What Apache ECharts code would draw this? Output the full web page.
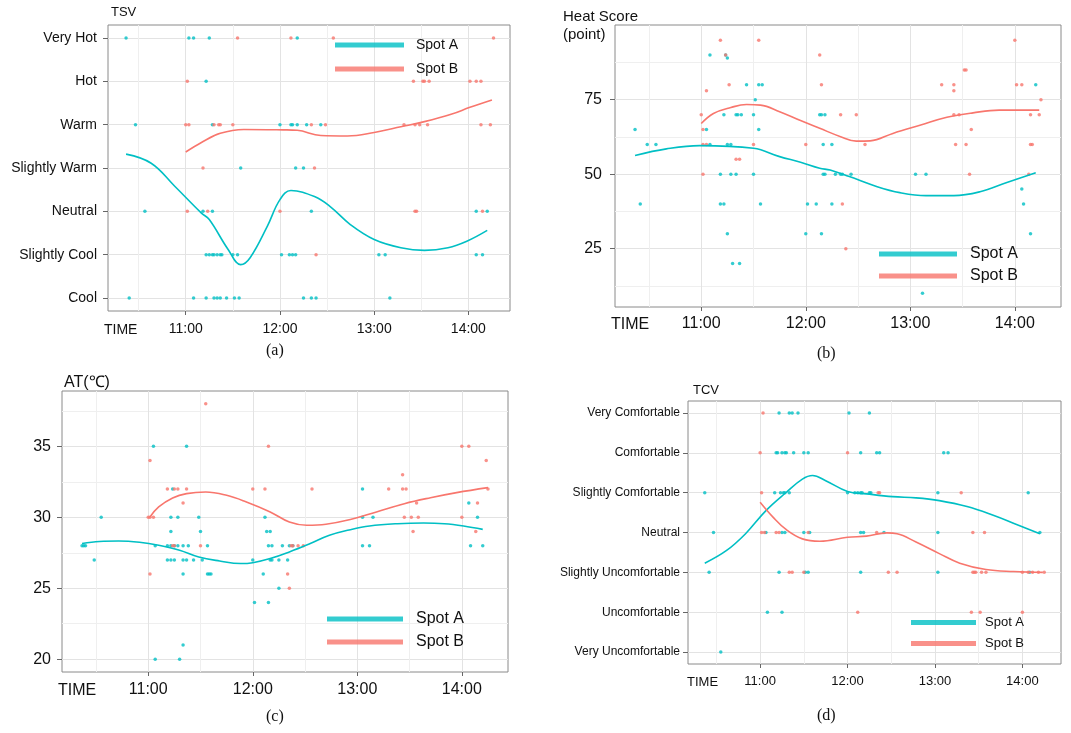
<!DOCTYPE html>
<html><head><meta charset="utf-8">
<script src="https://cdn.jsdelivr.net/npm/echarts@6/dist/echarts.min.js"></script>
<style>html,body{margin:0;padding:0;background:#fff}#c{width:1071px;height:733px}</style>
</head><body><div id="c"></div>
<script>
// ---- axis ticks (time in minutes since midnight) ----
const HOURS = [660, 720, 780, 840];
const HALF_HOURS = [630, 690, 750, 810];
const TSV_LEVELS = ['Cool','Slightly Cool','Neutral','Slightly Warm','Warm','Hot','Very Hot'];
const TCV_LEVELS = ['Very Uncomfortable','Uncomfortable','Slightly Uncomfortable','Neutral','Slightly Comfortable','Comfortable','Very Comfortable'];
const LEVEL_TICKS = [1,2,3,4,5,6,7];
const HEAT_TICKS = [25, 50, 75];
const HEAT_MINOR = [12.5, 37.5, 62.5, 87.5];
const AT_TICKS = [20, 25, 30, 35];
const AT_MINOR = [22.5, 27.5, 32.5, 37.5];

// ---- (a) TSV ----
const tsvA = [[622,7],[662,7],[665,7],[675,7],[731,7],[673,6],[628,5],[677,5],[720,5],[727,5],[728,5],[731,5],[737,5],[746,5],
  [695,4],[730,4],[735,4],[634,3],[671,3],[677,3],[740,3],[845,3],[852,3],
  [673,2],[675,2],[677,2],[678,2],[680,2],[682,2],[683,2],[690,2],[693,2],[721,2],[726,2],[728,2],[730,2],[783,2],[787,2],[845,2],[849,2],
  [624,1],[665,1],[673,1],[678,1],[680,1],[682,1],[686,1],[691,1],[694,1],[735,1],[740,1],[743,1],[790,1]];
const tsvB = [[693,7],[727,7],[754,7],[856,7],[661,6],[805,6],[811,6],[812,6],[815,6],[841,6],[845,6],[848,6],
  [660,5],[662,5],[678,5],[681,5],[682,5],[690,5],[740,5],[749,5],[799,5],[806,5],[809,5],[814,5],[848,5],[854,5],
  [671,4],[742,4],[661,3],[674,3],[720,3],[806,3],[807,3],[849,3],[743,2]];
const tsvAFit = [[622,4.32],[638,4.11],[653,3.58],[670,2.96],[675,2.81],[687,2.12],[695,1.77],[701,1.93],[712,2.66],[720,3.27],[727,3.48],
  [742,3.34],[752,3.11],[765,2.69],[780,2.35],[797,2.16],[812,2.10],[827,2.16],[839,2.31],[852,2.56]];
const tsvBFit = [[660,4.37],[670,4.59],[682,4.80],[697,4.89],[722,4.88],[731,4.87],[746,4.75],[763,4.74],[780,4.82],[797,4.95],
  [812,5.07],[829,5.24],[841,5.40],[855,5.57]];

// ---- (b) Heat score ----
const heatA = [[622,65],[625,40],[629,60],[634,60],[665,90],[674,90],[675,89],[686,80],[693,80],[695,80],[691,75],[673,70],[680,70],[681,70],
  [683,70],[690,70],[663,65],[693,65],[665,60],[675,60],[677,60],[671,50],[677,50],[680,50],[690,50],[671,40],[673,40],[694,40],[675,30],
  [678,20],[682,20],[721,40],[720,30],[728,70],[729,70],[731,70],[730,60],[735,60],[730,50],[731,50],[737,50],[740,50],[741,50],[746,50],
  [726,40],[735,40],[729,30],[787,10],[852,80],[783,50],[789,50],[844,45],[845,40],[849,30]];
const heatB = [[671,95],[674,90],[676,80],[693,95],[663,78],[660,70],[661,65],[661,60],[663,60],[690,60],[680,55],[682,55],[661,50],[720,60],
  [728,90],[729,80],[740,70],[749,70],[741,40],[743,25],[754,60],[798,80],[805,80],[805,78],[811,85],[812,85],[840,95],[841,80],[844,80],
  [855,75],[805,70],[808,70],[849,70],[854,70],[815,65],[806,60],[812,60],[849,60],[850,60],[814,50],[848,50]];
const heatAFit = [[622,56.3],[640,58.5],[659,59.6],[690,58.7],[705,55.9],[717,54],[728,52],[734,51.4],[745,49.2],[761,45.8],[774,43.8],
  [789,42.8],[805,42.8],[820,44.1],[835,47.1],[852,50.5]];
const heatBFit = [[660,67],[667,70.4],[677,72.4],[686,73.4],[694,73.2],[705,71],[717,68],[728,65.4],[740,62.6],[749,61.1],[757,61.2],
  [770,63.7],[786,66.5],[801,69.1],[816,70.6],[831,71.5],[854,71.5]];

// ---- (c) AT ----
const atA = [[622,28],[623,28],[624,28],[629,27],[633,30],[663,35],[664,28],[664,20],[674,32],[673,30],[677,30],[673,29],[671,28],[673,28],
  [675,28],[677,28],[680,28],[683,28],[671,27],[673,27],[675,27],[680,27],[682,27],[686,27],[691,27],[680,26],[680,21],[678,20],[682,35],
  [689,30],[690,29],[694,28],[694,26],[695,26],[696,26],[720,27],[721,24],[727,30],[728,29],[730,29],[729,28],[731,28],[730,27],[731,27],
  [735,27],[740,27],[737,28],[741,28],[743,28],[726,26],[735,25],[729,24],[783,32],[783,30],[789,30],[783,28],[787,28],[844,31],[849,30],
  [845,28],[852,28]];
const atB = [[661,34],[660,30],[661,30],[663,30],[661,26],[671,32],[675,32],[677,32],[680,31],[682,32],[674,28],[675,28],[690,28],[693,38],
  [720,32],[729,35],[727,32],[742,28],[743,28],[746,28],[749,28],[740,26],[741,25],[754,32],[798,32],[806,32],[808,32],[806,33],[807,30],
  [811,30],[815,30],[814,31],[812,29],[840,35],[844,35],[854,34],[855,32],[849,31],[840,30],[848,29]];
const atAFit = [[622,28.15],[632,28.3],[643,28.33],[655,28.24],[666,28.03],[678,27.68],[689,27.2],[701,26.92],[713,26.74],[720,26.8],
  [730,27.09],[741,27.56],[753,28.15],[764,28.73],[776,29.13],[787,29.39],[803,29.55],[818,29.6],[830,29.55],[841,29.39],[852,29.15]];
const atBFit = [[661,30.02],[666,30.73],[674,31.36],[682,31.67],[693,31.78],[705,31.55],[716,31.1],[730,30.38],[741,29.67],[751,29.44],
  [762,29.51],[776,29.84],[791,30.38],[807,30.96],[822,31.38],[837,31.74],[855,32.09]];

// ---- (d) TCV ----
const tcvA = [[673,7],[680,7],[682,7],[686,7],[721,7],[735,7],
  [671,6],[672,6],[675,6],[677,6],[678,6],[683,6],[690,6],[693,6],[729,6],[740,6],[742,6],[786,6],[789,6],
  [622,5],[670,5],[674,5],[676,5],[677,5],[680,5],[720,5],[725,5],[727,5],[729,5],[730,5],[735,5],[736,5],[782,5],[844,5],
  [628,4],[664,4],[675,4],[677,4],[690,4],[694,4],[729,4],[731,4],[745,4],[782,4],[852,4],
  [625,3],[673,3],[691,3],[693,3],[729,3],[782,3],[845,3],[665,2],[675,2],[633,1]];
const tcvB = [[662,7],[660,6],[720,6],[661,5],[741,5],[742,5],[798,5],
  [661,4],[663,4],[671,4],[673,4],[693,4],[740,4],[806,4],[814,4],
  [680,3],[682,3],[690,3],[748,3],[754,3],[806,3],[807,3],[808,3],[812,3],[815,3],[840,3],[844,3],[847,3],[851,3],[855,3],
  [727,2],[805,2],[811,2],[840,2]];
const tcvAFit = [[622,3.23],[637,3.55],[650,3.97],[664,4.55],[678,5.01],[689,5.34],[696,5.43],[705,5.3],[720,5.03],[733,4.97],[751,4.9],
  [767,4.87],[783,4.8],[802,4.65],[820,4.43],[836,4.2],[852,3.97]];
const tcvBFit = [[660,4.76],[669,4.38],[678,4.07],[689,3.84],[701,3.78],[720,3.88],[733,3.91],[747,3.99],[754,3.97],[767,3.76],[783,3.47],
  [797,3.23],[815,3.07],[834,3.02],[854,3.0]];

const COL_A = '#00BFC4', COL_B = '#F8766D';
const FONT = 'Liberation Sans, Arial, sans-serif';
const XMIN = 610.5, XMAX = 866.5;
const fmtTime = v => Math.floor(v / 60) + ':' + String(Math.round(v % 60)).padStart(2, '0');

const panels = [
  { grid: {left:108, top:25, width:402, height:286}, xfs:14, yfs:14, xMargin:11, yMargin:11, ymin:0.7, ymax:7.3,
    yMajor: LEVEL_TICKS, yMinor: null, yFmt: v => TSV_LEVELS[Math.round(v)-1], timeGap:4,
    A: tsvA, B: tsvB, AF: tsvAFit, BF: tsvBFit,
    legend: {left:335, top:38, itemWidth:69, fs:14, gap:10, pad:7} },
  { grid: {left:615, top:25, width:446, height:282}, xfs:16, yfs:16, xMargin:9, yMargin:13, ymin:5.4, ymax:100.1,
    yMajor: HEAT_TICKS, yMinor: HEAT_MINOR, yFmt: v => String(v), timeGap:4,
    A: heatA, B: heatB, AF: heatAFit, BF: heatBFit,
    legend: {left:879, top:246, itemWidth:78, fs:16, gap:6, pad:8} },
  { grid: {left:62, top:391, width:446, height:281}, xfs:16, yfs:16, xMargin:10, yMargin:11, ymin:19.1, ymax:38.9,
    yMajor: AT_TICKS, yMinor: AT_MINOR, yFmt: v => String(v), timeGap:4,
    A: atA, B: atB, AF: atAFit, BF: atBFit,
    legend: {left:327, top:611, itemWidth:76, fs:16, gap:7, pad:8} },
  { grid: {left:688, top:401, width:373, height:263}, xfs:13, yfs:12, xMargin:11, yMargin:8, ymin:0.7, ymax:7.3,
    yMajor: LEVEL_TICKS, yMinor: null, yFmt: v => TCV_LEVELS[Math.round(v)-1], timeGap:1,
    A: tcvA, B: tcvB, AF: tcvAFit, BF: tcvBFit,
    legend: {left:911, top:616, itemWidth:65, fs:13, gap:8, pad:4} }
];

const grids = [], xAxes = [], yAxes = [], series = [], legends = [];
const MAJOR = '#e3e3e3', MINOR = '#efefef';
panels.forEach((p, i) => {
  grids.push(Object.assign({show:true, borderColor:'#8a8a8a', borderWidth:1, backgroundColor:'#fff'}, p.grid));
  xAxes.push({
    type:'value', gridIndex:i, min:XMIN, max:XMAX, position:'bottom',
    name:'TIME', nameLocation:'start', nameGap:p.timeGap,
    nameTextStyle:{fontFamily:FONT, fontSize:p.xfs, color:'#111', align:'left', verticalAlign:'top', padding:[p.xMargin + 1,0,0,0]},
    axisLine:{show:false},
    axisTick:{show:true, length:4, lineStyle:{color:'#666'}, customValues:HOURS},
    axisLabel:{customValues:HOURS, formatter:fmtTime, fontFamily:FONT, fontSize:p.xfs, color:'#111', margin:p.xMargin},
    splitLine:{show:true, lineStyle:{color:MAJOR, width:1}}
  });
  xAxes.push({
    type:'value', gridIndex:i, min:XMIN, max:XMAX, position:'top',
    axisLine:{show:false}, axisLabel:{show:false},
    axisTick:{show:false, customValues:HALF_HOURS},
    splitLine:{show:true, lineStyle:{color:MINOR, width:1}}
  });
  yAxes.push({
    type:'value', gridIndex:i, min:p.ymin, max:p.ymax, position:'left',
    axisLine:{show:false},
    axisTick:{show:true, length:5, lineStyle:{color:'#666'}, customValues:p.yMajor},
    axisLabel:{customValues:p.yMajor, formatter:p.yFmt, fontFamily:FONT, fontSize:p.yfs, color:'#111', margin:p.yMargin},
    splitLine:{show:true, lineStyle:{color:MAJOR, width:1}}
  });
  yAxes.push({
    type:'value', gridIndex:i, min:p.ymin, max:p.ymax, position:'right',
    axisLine:{show:false}, axisLabel:{show:false},
    axisTick:{show:false, customValues:p.yMinor || [-1000]},
    splitLine:{show:!!p.yMinor, lineStyle:{color:MINOR, width:1}}
  });
  const xi = 2*i, yi = 2*i;
  series.push({name:'Spot A', type:'scatter', xAxisIndex:xi, yAxisIndex:yi, data:p.A, symbolSize:3.5, itemStyle:{color:COL_A}, silent:true, z:2});
  series.push({name:'Spot B', type:'scatter', xAxisIndex:xi, yAxisIndex:yi, data:p.B, symbolSize:3.5, itemStyle:{color:COL_B}, silent:true, z:2});
  series.push({name:'Spot A', type:'line', xAxisIndex:xi, yAxisIndex:yi, data:p.AF, smooth:0.4, showSymbol:false, symbol:'none',
    lineStyle:{color:COL_A, width:1.6}, itemStyle:{color:COL_A}, silent:true, z:3});
  series.push({name:'Spot B', type:'line', xAxisIndex:xi, yAxisIndex:yi, data:p.BF, smooth:0.4, showSymbol:false, symbol:'none',
    lineStyle:{color:COL_B, width:1.6}, itemStyle:{color:COL_B}, silent:true, z:3});
  const L = p.legend;
  legends.push({
    data:['Spot A','Spot B'], orient:'vertical', left:L.left, top:L.top, padding:0,
    icon:'rect', itemWidth:L.itemWidth, itemHeight:5, itemGap:L.gap, selectedMode:false,
    textStyle:{fontFamily:FONT, fontSize:L.fs, color:'#111', padding:[0,0,0,L.pad]}
  });
});

const titles = [
  {text:'TSV', left:111, top:6, textStyle:{fontFamily:FONT, fontSize:13, fontWeight:'normal', color:'#111'}},
  {text:'Heat Score\n(point)', left:563, top:8, textStyle:{fontFamily:FONT, fontSize:15, lineHeight:18, fontWeight:'normal', color:'#111'}},
  {text:'AT(℃)', left:64, top:375, textStyle:{fontFamily:FONT, fontSize:16, fontWeight:'normal', color:'#111'}},
  {text:'TCV', left:693, top:384, textStyle:{fontFamily:FONT, fontSize:13, fontWeight:'normal', color:'#111'}},
  {text:'(a)', left:266, top:343, textStyle:{fontFamily:'Liberation Serif, serif', fontSize:16, fontWeight:'normal', color:'#111'}},
  {text:'(b)', left:817, top:346, textStyle:{fontFamily:'Liberation Serif, serif', fontSize:16, fontWeight:'normal', color:'#111'}},
  {text:'(c)', left:266, top:709, textStyle:{fontFamily:'Liberation Serif, serif', fontSize:16, fontWeight:'normal', color:'#111'}},
  {text:'(d)', left:817, top:708, textStyle:{fontFamily:'Liberation Serif, serif', fontSize:16, fontWeight:'normal', color:'#111'}}
].map(t => Object.assign({padding:0}, t));

const chart = echarts.init(document.getElementById('c'), null, {renderer:'canvas'});
chart.setOption({
  animation:false,
  backgroundColor:'#fff',
  title: titles,
  grid: grids,
  xAxis: xAxes,
  yAxis: yAxes,
  legend: legends,
  series: series
});
</script>
</body></html>
